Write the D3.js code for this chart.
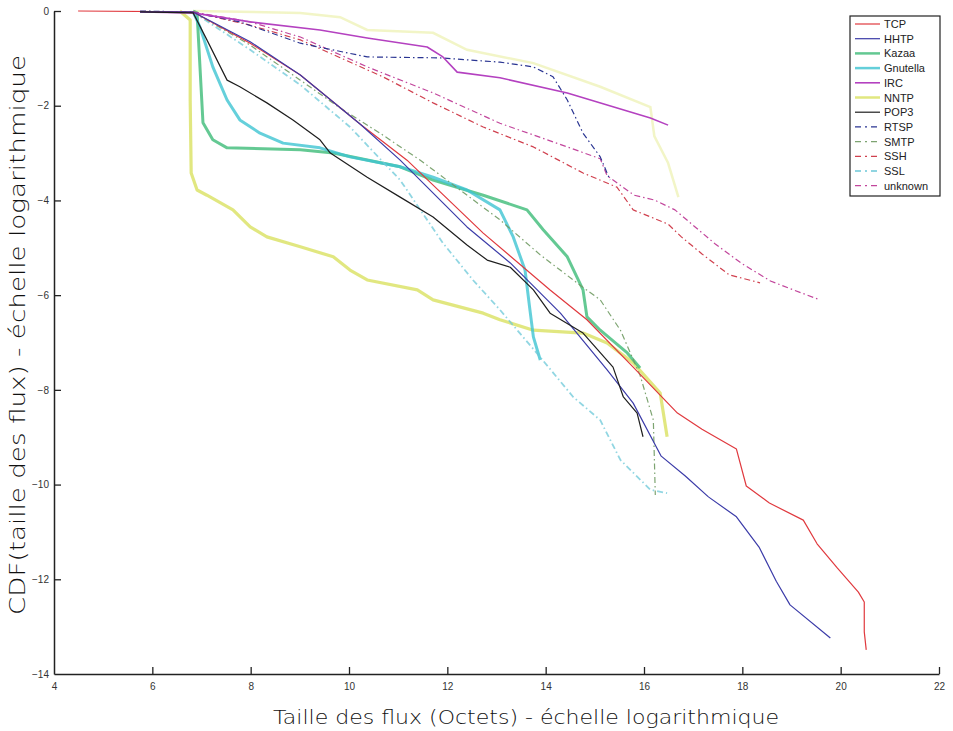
<!DOCTYPE html>
<html>
<head>
<meta charset="utf-8">
<script src="https://cdn.jsdelivr.net/npm/d3@7"></script>
<style>
  html, body { margin: 0; padding: 0; background: #fff; }
  svg { display: block; }
</style>
</head>
<body>
<svg id="chart" width="953" height="731"></svg>
<script>
// ---------- DATA ----------
const xTicks = [4, 6, 8, 10, 12, 14, 16, 18, 20, 22];
const yTicks = [0, -2, -4, -6, -8, -10, -12, -14];
const seriesNames = ["TCP", "HHTP", "Kazaa", "Gnutella", "IRC", "NNTP", "POP3", "RTSP", "SMTP", "SSH", "SSL", "unknown"];

const tcp = [[4.49,0],[6.83,-0.02],[7.99,-0.68],[9.01,-1.35],[10.23,-2.39],[11.18,-3.15],[12.73,-4.69],[14.09,-5.89],[14.84,-6.52],[15.78,-7.52],[16.68,-8.49],[17.18,-8.83],[17.88,-9.25],[18.08,-10.03],[18.55,-10.39],[19.24,-10.75],[19.52,-11.25],[19.93,-11.76],[20.36,-12.27],[20.48,-12.48],[20.48,-13.11],[20.52,-13.49]];
const http = [[5.75,-0.02],[6.83,-0.02],[7.99,-0.65],[9.01,-1.35],[10.23,-2.39],[11.04,-3.15],[12.4,-4.56],[13.28,-5.32],[14.3,-6.38],[15.25,-7.58],[15.78,-8.28],[16.35,-9.4],[16.84,-9.82],[17.31,-10.26],[17.88,-10.68],[18.34,-11.32],[18.69,-12.04],[18.97,-12.54],[19.79,-13.24]];
const kazaa = [[6.83,0],[6.91,-0.04],[7.03,-2.36],[7.23,-2.72],[7.52,-2.89],[9.01,-2.93],[9.68,-3.0],[11.04,-3.29],[11.71,-3.57],[12.73,-3.89],[13.62,-4.2],[13.95,-4.62],[14.44,-5.19],[14.76,-5.89],[14.84,-6.46],[15.11,-6.74],[15.66,-7.22],[15.92,-7.54]];
const gnutella = [[6.83,-0.02],[6.97,-0.34],[7.23,-1.18],[7.52,-1.88],[7.78,-2.3],[8.19,-2.58],[8.66,-2.79],[9.41,-2.89],[10.02,-3.08],[11.04,-3.29],[11.71,-3.51],[12.4,-3.78],[13.07,-4.2],[13.34,-4.77],[13.58,-5.47],[13.68,-6.31],[13.75,-6.88],[13.89,-7.37]];
const irc = [[5.75,-0.02],[6.83,-0.04],[7.99,-0.23],[9.41,-0.4],[10.37,-0.57],[11.59,-0.76],[11.91,-0.97],[12.2,-1.29],[13.07,-1.41],[14.44,-1.73],[16.13,-2.26],[16.49,-2.41]];
const nntp = [[6.56,0],[6.77,-0.19],[6.77,-1.88],[6.79,-3.42],[6.91,-3.78],[7.11,-3.89],[7.64,-4.2],[7.99,-4.56],[8.33,-4.77],[9.01,-4.98],[9.68,-5.19],[10.02,-5.47],[10.37,-5.68],[11.39,-5.89],[11.71,-6.1],[12.73,-6.38],[13.07,-6.52],[13.75,-6.74],[14.76,-6.8],[15.25,-7.01],[15.78,-7.43],[16.33,-8.07],[16.47,-8.99]];
const pop3 = [[5.75,-0.02],[6.83,-0.04],[7.11,-0.61],[7.52,-1.46],[7.78,-1.6],[8.33,-1.94],[8.86,-2.3],[9.41,-2.72],[9.62,-3.0],[10.37,-3.51],[11.04,-3.93],[11.71,-4.35],[12.4,-4.94],[12.81,-5.26],[13.28,-5.41],[13.75,-5.89],[14.09,-6.38],[14.76,-6.8],[15.37,-7.52],[15.58,-8.15],[15.86,-8.49],[15.98,-8.99]];
const rtsp = [[5.75,0],[6.77,-0.02],[7.78,-0.23],[9.01,-0.68],[10.37,-0.97],[11.85,-0.99],[13.07,-1.08],[13.75,-1.18],[14.15,-1.39],[14.44,-1.88],[14.76,-2.58],[15.11,-3.08],[15.31,-3.57]];
const smtp = [[6.83,-0.02],[7.99,-0.72],[9.01,-1.46],[9.82,-2.05],[10.63,-2.58],[11.45,-3.15],[12.26,-3.78],[13.07,-4.41],[13.89,-5.15],[14.7,-5.79],[15.11,-6.1],[15.52,-6.74],[15.92,-7.69],[16.19,-8.64],[16.23,-10.22]];
const ssh = [[6.83,-0.02],[7.99,-0.3],[9.01,-0.61],[10.69,-1.39],[11.71,-1.94],[12.73,-2.45],[13.75,-2.87],[14.76,-3.42],[15.45,-3.72],[15.78,-4.2],[16.49,-4.5],[16.76,-4.77],[17.18,-5.13],[17.73,-5.57],[18.36,-5.74]];
const ssl = [[6.83,-0.02],[7.99,-0.82],[9.01,-1.56],[10.02,-2.45],[11.04,-3.57],[11.91,-4.9],[12.52,-5.68],[13.07,-6.31],[13.89,-7.31],[14.56,-8.15],[15.11,-8.64],[15.52,-9.48],[16.13,-10.11],[16.47,-10.18]];
const unknown = [[6.83,-0.02],[7.99,-0.23],[9.01,-0.55],[10.37,-1.18],[11.71,-1.73],[13.07,-2.37],[14.44,-2.87],[15.11,-3.12],[15.25,-3.48],[15.8,-3.89],[16.21,-3.99],[16.63,-4.2],[17.04,-4.56],[17.45,-4.92],[18.0,-5.34],[18.57,-5.7],[19.04,-5.89],[19.58,-6.1]];
// faint light line near the top (not listed in the legend)
const extraTop = [[6.83,0],[9.01,-0.04],[9.82,-0.13],[10.37,-0.4],[11.71,-0.46],[12.4,-0.82],[13.75,-1.1],[15.11,-1.6],[16.13,-2.03],[16.21,-2.64],[16.49,-3.21],[16.7,-3.93]];

// ---------- STYLES ----------
const styles = {
  "TCP":      {color: "#e0393e", width: 1.2, dash: null, opacity: 1},
  "HHTP":     {color: "#3b3ba8", width: 1.2, dash: null, opacity: 1},
  "Kazaa":    {color: "#3dbb78", width: 3, dash: null, opacity: 0.8},
  "Gnutella": {color: "#3ec4d2", width: 3, dash: null, opacity: 0.8},
  "IRC":      {color: "#b441c0", width: 1.6, dash: null, opacity: 1},
  "NNTP":     {color: "#dce36a", width: 3.2, dash: null, opacity: 0.85},
  "POP3":     {color: "#1e1e1e", width: 1.2, dash: null, opacity: 1},
  "RTSP":     {color: "#2a3592", width: 1.2, dash: "6,3,1.5,3", opacity: 1},
  "SMTP":     {color: "#6f9a62", width: 1.2, dash: "6,3,1.5,3", opacity: 0.9},
  "SSH":      {color: "#d0404e", width: 1.2, dash: "6,3,1.5,3", opacity: 1},
  "SSL":      {color: "#6cc8d8", width: 1.8, dash: "6,3,1.5,3", opacity: 0.75},
  "unknown":  {color: "#c2469c", width: 1.2, dash: "6,3,1.5,3", opacity: 1}
};
const seriesData = [tcp, http, kazaa, gnutella, irc, nntp, pop3, rtsp, smtp, ssh, ssl, unknown];

// ---------- CHART ----------
const svg = d3.select("#chart");
const margin = {left: 54, right: 14, top: 11, bottom: 57};
const W = 953, H = 731;
const x = d3.scaleLinear().domain([4, 22]).range([margin.left, W - margin.right]);
const y = d3.scaleLinear().domain([-14, 0]).range([H - margin.bottom, margin.top]);

const line = d3.line().x(d => x(d[0])).y(d => y(d[1]));

svg.append("path")
  .datum(extraTop)
  .attr("d", line)
  .attr("fill", "none")
  .attr("stroke", "#eef2b4")
  .attr("stroke-width", 2.5)
  .attr("opacity", 0.75);

const order = [5, 2, 3, 10, 8, 9, 11, 7, 4, 0, 1, 6];
order.forEach(i => {
  const s = styles[seriesNames[i]];
  svg.append("path")
    .datum(seriesData[i])
    .attr("d", line)
    .attr("fill", "none")
    .attr("stroke", s.color)
    .attr("stroke-width", s.width)
    .attr("stroke-dasharray", s.dash)
    .attr("stroke-linejoin", "round")
    .attr("opacity", s.opacity);
});

// axes
const xAxis = d3.axisBottom(x).tickValues(xTicks).tickSizeInner(-7).tickSizeOuter(0).tickPadding(9).tickFormat(d3.format("d"));
const yAxis = d3.axisLeft(y).tickValues(yTicks).tickSizeInner(-7).tickSizeOuter(0).tickPadding(9).tickFormat(d3.format("d"));

const gx = svg.append("g").attr("transform", `translate(0,${H - margin.bottom})`).call(xAxis);
const gy = svg.append("g").attr("transform", `translate(${margin.left},0)`).call(yAxis);
[gx, gy].forEach(g => {
  g.select(".domain").attr("stroke", "#222").attr("stroke-width", 1.5);
  g.selectAll(".tick line").attr("stroke", "#222").attr("stroke-width", 1.3);
  g.selectAll(".tick text").attr("fill", "#333").attr("font-size", 10).attr("font-family", "Liberation Sans, Arial, sans-serif");
});
gx.selectAll(".tick").filter(d => d === 4).select("line").remove();
gy.selectAll(".tick").filter(d => d === -14).select("line").remove();
gy.selectAll(".tick text").attr("dx", 4);

// axis titles
svg.append("text")
  .attr("x", 526).attr("y", 724)
  .attr("text-anchor", "middle")
  .attr("font-family", "DejaVu Sans, sans-serif")
  .attr("font-weight", 300)
  .attr("font-size", 20).attr("fill", "#111")
  .attr("textLength", 506).attr("lengthAdjust", "spacingAndGlyphs")
  .text("Taille des flux (Octets) - échelle logarithmique");

svg.append("text")
  .attr("transform", "translate(25,335) rotate(-90)")
  .attr("text-anchor", "middle")
  .attr("font-family", "DejaVu Sans, sans-serif")
  .attr("font-weight", 300)
  .attr("font-size", 21).attr("fill", "#111")
  .attr("textLength", 560).attr("lengthAdjust", "spacingAndGlyphs")
  .text("CDF(taille des flux) - échelle logarithmique");

// legend
const lg = svg.append("g");
lg.append("rect")
  .attr("x", 850).attr("y", 16).attr("width", 90).attr("height", 180)
  .attr("fill", "#fff").attr("stroke", "#222").attr("stroke-width", 1.2);
seriesNames.forEach((name, i) => {
  const s = styles[name];
  const yy = 24 + i * 14.7;
  lg.append("line")
    .attr("x1", 855).attr("x2", 880).attr("y1", yy).attr("y2", yy)
    .attr("stroke", s.color).attr("stroke-width", Math.min(s.width, 2.5))
    .attr("stroke-dasharray", s.dash ? "6,4,2,4" : null)
    .attr("opacity", s.opacity);
  lg.append("text")
    .attr("x", 884).attr("y", yy + 4)
    .attr("font-family", "Liberation Sans, Arial, sans-serif")
    .attr("font-size", 11).attr("fill", "#222")
    .text(name);
});
</script>
</body>
</html>
